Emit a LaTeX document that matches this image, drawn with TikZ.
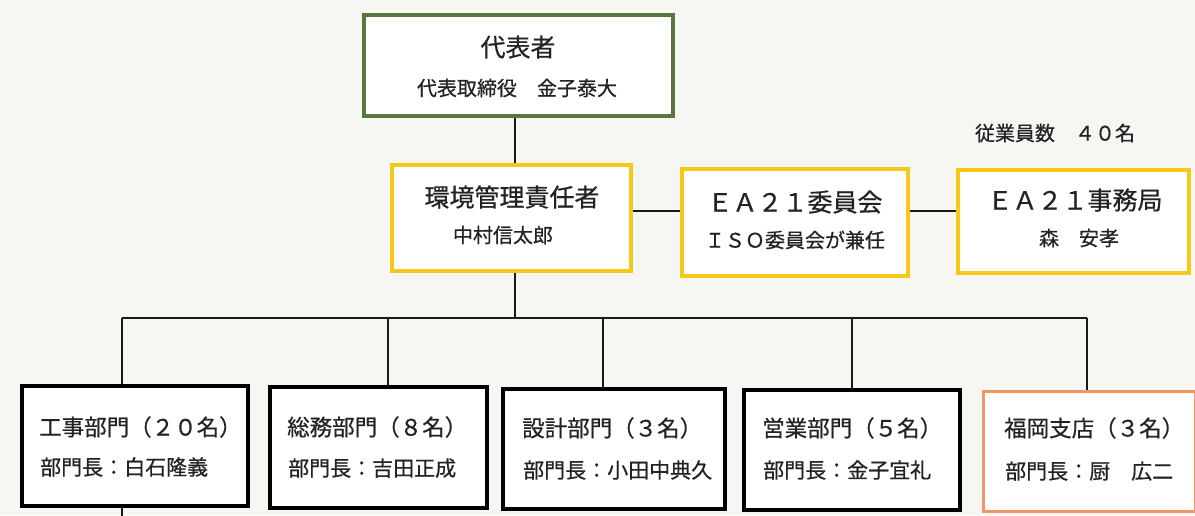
\documentclass[tikz,border=0pt]{standalone}
\usepackage{fontspec}
\setmainfont{Noto Sans CJK JP}[FakeBold=0.6]
\definecolor{bggray}{RGB}{246,246,243}
\definecolor{boxgreen}{RGB}{88,118,62}
\definecolor{boxyellow}{RGB}{246,200,24}
\definecolor{boxorange}{RGB}{240,150,100}
\definecolor{inkc}{RGB}{35,35,35}
\begin{document}
\begin{tikzpicture}[x=1pt,y=-1pt,
  basebox/.style={fill=white, inner sep=0pt},
  greenbox/.style={basebox, draw=boxgreen, line width=4pt},
  yellowbox/.style={basebox, draw=boxyellow, line width=4pt},
  blackbox/.style={basebox, draw=black, line width=3.5pt},
  orangebox/.style={basebox, draw=boxorange, line width=3pt},
  conn/.style={draw=black!90, line width=2pt},
  tbig/.style={text=inkc, inner sep=0pt, font=\fontsize{25}{25}\selectfont, text height=20.75pt, text depth=1.75pt},
  tmid/.style={text=inkc, inner sep=0pt, font=\fontsize{22.5}{22.5}\selectfont, text height=18.7pt, text depth=1.6pt},
  tsmall/.style={text=inkc, inner sep=0pt, font=\fontsize{20}{20}\selectfont, text height=16.6pt, text depth=1.4pt},
  tsm/.style={text=inkc, inner sep=0pt, font=\fontsize{21}{21}\selectfont, text height=17.4pt, text depth=1.5pt}]
\useasboundingbox (0,0) rectangle (1195,515);
\fill[bggray] (0,0) rectangle (1195,515);

% boxes
\node[greenbox, minimum width=309pt, minimum height=101pt] (top) at (518.5,65.5) {};
\node[yellowbox, minimum width=239pt, minimum height=106pt] (mgr) at (511.5,218) {};
\node[yellowbox, minimum width=226pt, minimum height=107pt] (com) at (795,222.5) {};
\node[yellowbox, minimum width=231pt, minimum height=103pt] (sec) at (1073.5,221.5) {};
\node[blackbox, minimum width=226pt, minimum height=120pt] (b1) at (135,446) {};
\node[blackbox, minimum width=217pt, minimum height=121pt] (b2) at (378.5,447.5) {};
\node[blackbox, minimum width=222pt, minimum height=120pt] (b3) at (614,449) {};
\node[blackbox, minimum width=216pt, minimum height=120pt] (b4) at (852,450) {};
\node[orangebox, minimum width=212pt, minimum height=120pt] (b5) at (1089.5,451.5) {};

% texts
\node[tbig] (topt) at (518,47) {代表者};
\node[tsmall] (tops) at (517,88) {代表取締役　金子泰大};
\node[tbig] (mgrt) at (512,197) {環境管理責任者};
\node[tsmall] (mgrs) at (503,235) {中村信太郎};
\node[tbig] (comt) at (795,202) {ＥＡ２１委員会};
\node[tsmall] (coms) at (795,240) {ＩＳＯ委員会が兼任};
\node[tbig] (sect) at (1075,200) {ＥＡ２１事務局};
\node[tsmall] (secs) at (1079,238) {森　安孝};
\node[tsmall] (staff) at (1055,133) {従業員数　４０名};

\node[tmid, anchor=west] (b1t) at (39,427) {工事部門（２０名）};
\node[tsm, anchor=west] (b1s) at (40,467) {部門長：白石隆義};
\node[tmid, anchor=west] (b2t) at (287,427) {総務部門（８名）};
\node[tsm, anchor=west] (b2s) at (288,468) {部門長：吉田正成};
\node[tmid, anchor=west] (b3t) at (522,428) {設計部門（３名）};
\node[tsm, anchor=west] (b3s) at (523,470) {部門長：小田中典久};
\node[tmid, anchor=west] (b4t) at (762,428) {営業部門（５名）};
\node[tsm, anchor=west] (b4s) at (763,470) {部門長：金子宜礼};
\node[tmid, anchor=west] (b5t) at (1004,428) {福岡支店（３名）};
\node[tsm, anchor=west] (b5s) at (1005,471) {部門長：厨　広二};

% connectors
\coordinate (spine) at (515,0);
\coordinate (hl) at (0,211);
\coordinate (d1) at (122,318);
\coordinate (d2) at (388,318);
\coordinate (d3) at (603,318);
\coordinate (d4) at (852,318);
\coordinate (d5) at (1087,318);
\coordinate (stub) at (122,520);
\draw[conn] (spine |- top.south) -- (spine |- mgr.north);
\draw[conn] (spine |- mgr.south) -- (spine |- d1);
\draw[conn] (mgr.east |- hl) -- (com.west |- hl);
\draw[conn] (com.east |- hl) -- (sec.west |- hl);
\draw[conn] (d1) -- (d5);
\draw[conn] (d1) -- (d1 |- b1.north);
\draw[conn] (d2) -- (d2 |- b2.north);
\draw[conn] (d3) -- (d3 |- b3.north);
\draw[conn] (d4) -- (d4 |- b4.north);
\draw[conn] (d5) -- (d5 |- b5.north);
\draw[conn] (d1 |- b1.south) -- (stub);
\end{tikzpicture}
\end{document}
